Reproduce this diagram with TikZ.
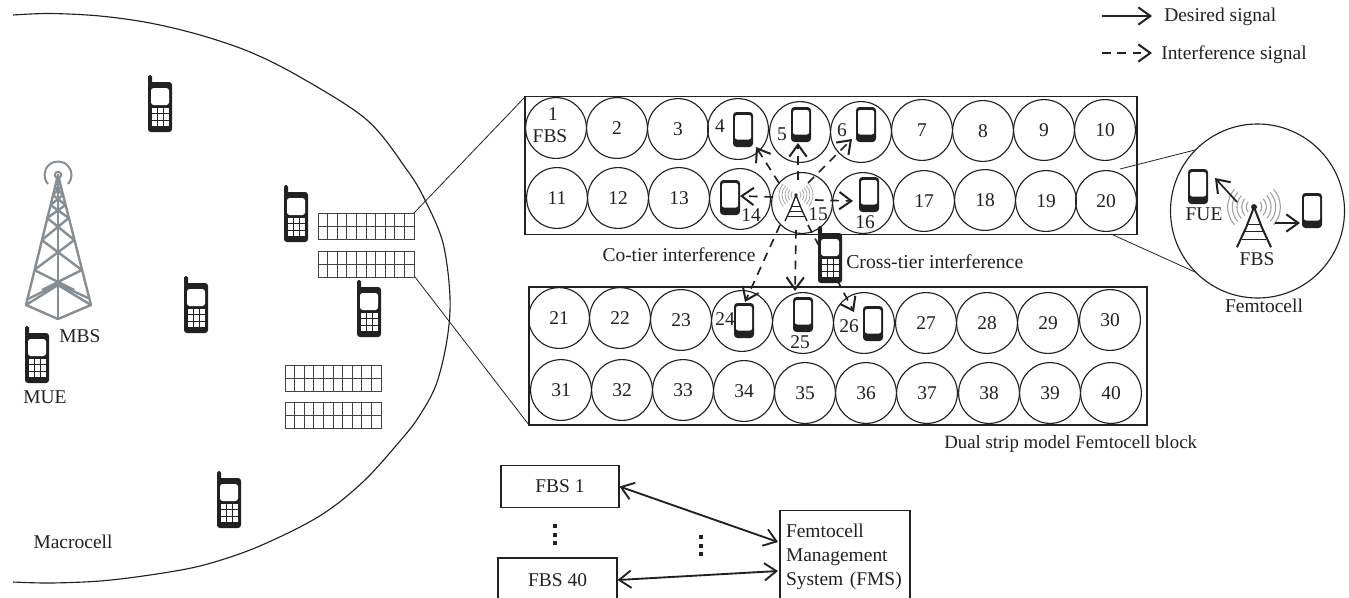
\documentclass[tikz,border=0pt]{standalone}
\usepackage{fontspec}
\setmainfont{Liberation Serif}
\usetikzlibrary{arrows.meta}
\definecolor{ink}{gray}{0.13}
\definecolor{towergray}{RGB}{134,142,148}
\newcommand{\wavew}{.55pt}
\newcommand{\legw}{1pt}
\tikzset{
  every node/.style={text=ink,font=\fontsize{14.6}{18}\selectfont},
  cell/.style={circle,draw=ink,line width=.85pt,minimum size=45.6pt,inner sep=0pt},
  plainbox/.style={rectangle,draw=ink,line width=.8pt,inner sep=0pt},
  thinline/.style={draw=ink,line width=.6pt},
  sig/.style={draw=ink,line width=1.25pt,-{Straight Barb[length=9pt,width=13pt,line width=1.5pt]}},
  sigd/.style={sig,dash pattern=on 6.5pt off 5pt},
  twoway/.style={draw=ink,line width=1.4pt,{Straight Barb[length=9pt,width=13pt,line width=1.4pt]}-{Straight Barb[length=9pt,width=13pt,line width=1.4pt]}},
  oldphone/.pic={
    \fill[ink,rounded corners=1.2pt] (0,0) rectangle (4,10);
    \fill[ink,rounded corners=2.2pt] (0,7) rectangle (24,57);
    \fill[white,rounded corners=2pt] (3,13) rectangle (21,30);
    \foreach \i in {0,1,2}{\foreach \j in {0,1,2}{
      \fill[white] ({4+\i*5.9},{32.5+\j*6.8}) rectangle ({8.7+\i*5.9},{37.7+\j*6.8});
    }}
  },
  smartphone/.pic={
    \fill[ink,rounded corners=2.6pt] (0,0) rectangle (20,35);
    \fill[white,rounded corners=1.6pt] (2,3) rectangle (18,27.5);
  },
  houseblock/.pic={
    \draw[draw=ink!85,line width=.65pt] (0,0) rectangle (96,26);
    \draw[draw=ink!85,line width=.55pt] (0,13) -- (96,13);
    \foreach \i in {1,...,9}{\draw[draw=ink!85,line width=.55pt] ({\i*9.6},0) -- ({\i*9.6},26);}
  },
  fbstower/.pic={
    \foreach \r in {5,8,11,14,17}{
      \draw[gray!75,line width=\wavew] (-42:\r) arc[start angle=-42,end angle=42,radius=\r];
      \draw[gray!75,line width=\wavew] (138:\r) arc[start angle=138,end angle=222,radius=\r];
    }
    \fill[ink] (0,0) circle (1.9);
    \draw[ink,line width=\legw] (0,0) -- (-5,13) -- (-11,26) (0,0) -- (5,13) -- (11,26);
    \draw[ink,line width=.6pt] (-4,11) -- (4,11) (-6,16) -- (6,16) (-8,21) -- (8,21);
  }
}
\begin{document}
\begin{tikzpicture}[x=.75pt,y=-.75pt]
\useasboundingbox (0,0) rectangle (1349,597);
\clip (0,0) rectangle (1349,597);

% macrocell boundary
\draw[draw=ink,line width=.85pt] plot[smooth,tension=.55] coordinates {
 (13,15) (50,13.5) (100,16) (150,23) (200,35) (250,52) (300,77) (367,120) (407,170) (425,200) (443,243) (450,297)
 (447,340) (436,385) (418,418) (400,441) (367,478) (333,507) (300,527) (250,550) (200,566) (150,575) (100,581) (50,583) (13,582)};

% MBS tower
\begin{scope}[draw=towergray,line width=1.8pt,line join=round]
 \draw (58,175) -- (26,305) -- (58,319) -- (91,305) -- cycle;
 \draw (58,175) -- (58,319);
 \draw (26,305) -- (58,285) -- (91,305);
 \draw (26,300) -- (58,284) -- (88,298);
 \draw (34.3,270) -- (74.3,290) (81.8,270) -- (42,290);
 \draw (34.3,270) -- (74.3,240) (81.8,270) -- (41.8,240);
 \draw (41.8,240) -- (68.8,218) (74.3,240) -- (47.2,218);
 \draw (47.2,218) -- (65.5,205) (68.8,218) -- (50.5,205);
 \draw (50.5,205) -- (63,195) (65.5,205) -- (53,195);
 \draw (53,195) -- (61,187) (63,195) -- (55,187);
 \draw[line width=1.5pt] (58,175) circle (3.2);
 \draw[line width=1.5pt] (48,184) arc[start angle=138,end angle=402,radius=13.5];
\end{scope}

% zoom lines
\coordinate (blockA) at (414,213);
\coordinate (blockB) at (415,277);
\coordinate (boxAcorner) at (525,97);
\coordinate (boxBcorner) at (529,425);
\coordinate (femA) at (1195,150);
\coordinate (femB) at (1195,272);
\coordinate (boxAa) at (1120,169);
\coordinate (boxAb) at (1111,234);
\draw[thinline] (blockA) -- (boxAcorner);
\draw[thinline] (blockB) -- (boxBcorner);
\draw[thinline] (boxAa) -- (femA);
\draw[thinline] (boxAb) -- (femB);

% housing blocks
\pic at (318,213) {houseblock};
\pic at (318,251) {houseblock};
\pic at (285,365) {houseblock};
\pic at (285,402) {houseblock};

% old phones
\pic at (148,75) {oldphone};
\pic at (284,185) {oldphone};
\pic at (184,276) {oldphone};
\pic at (357,280) {oldphone};
\pic at (25,326) {oldphone};
\pic at (217,471) {oldphone};

% strip frames
\node[plainbox,minimum width=459pt,minimum height=103pt] (stripA) at (831,165.5) {};
\node[plainbox,minimum width=463.5pt,minimum height=103.5pt] (stripB) at (838,356) {};

% cells
\foreach \n/\x/\y in {
 2/617/128,3/678/129,7/922/130,8/983/131,9/1044/130,10/1105/130,
 11/557/198,12/618/198,13/679/198,17/924/201,18/985/200,19/1046/201,20/1106/201,
 21/559/318,22/620/318,23/681/320,27/926/323,28/987/323,29/1048/323,30/1110/320,
 31/561/390,32/622/390,33/683/390,34/744/391,35/805/393,36/866/393,37/927/393,38/989/393,39/1050/393,40/1111/393}{
  \node[cell] (c\n) at (\x,\y) {\n};
}
\foreach \n/\x/\y in {1/556/128,4/738/129,5/800/132,6/861/132,14/740/199,15/802/203,16/863/203,24/742/321,25/803/323,26/864/323}{
  \node[cell] (c\n) at (\x,\y) {};
}
\foreach \n/\x/\y in {1/553/114,4/720/126,5/782/134,6/842/130,14/751/215,15/818/214,16/865/222,24/725/319,25/800/342,26/849/326}{
  \node[inner sep=0pt] (t\n) at (\x,\y) {\n};
}
\node[inner sep=0pt] (tfbs) at (550,136) {FBS};

% smart phones
\pic at (733,112) {smartphone};
\pic at (791,107) {smartphone};
\pic at (856,107) {smartphone};
\pic at (720,180) {smartphone};
\pic at (859,177) {smartphone};
\pic at (734,303) {smartphone};
\pic at (793,297) {smartphone};
\pic at (863,306) {smartphone};

% FBS in cell 15
\pic at (796,195) {fbstower};

% interference arrows
\coordinate (s4) at (779,183); \coordinate (e4) at (756,147);
\coordinate (s5) at (798,180); \coordinate (e5) at (798,143);
\coordinate (s6) at (808,183); \coordinate (e6) at (852,139);
\coordinate (s14) at (773,197); \coordinate (e14) at (740,196);
\coordinate (s16) at (815,200); \coordinate (e16) at (853,201);
\coordinate (s24) at (780,225); \coordinate (e24) at (745,302);
\coordinate (s25) at (796,230); \coordinate (e25) at (795,291);
\coordinate (s26) at (808,225); \coordinate (e26) at (854,312);
\foreach \k in {4,5,6,14,16,24,25,26}{\draw[sigd] (s\k) -- (e\k);}

% cross-tier phone over the arrows
\pic at (818,226) {oldphone};

% captions
\node[inner sep=0pt] (cotier) at (679,255) {Co-tier interference};
\node[inner sep=0pt,anchor=west,font=\fontsize{14.8}{18}\selectfont] (crosstier) at (846,262) {Cross-tier interference};
\node[inner sep=0pt,anchor=west,font=\fontsize{14.1}{18}\selectfont] (dualstrip) at (944,444) {Dual strip model Femtocell block};
\node[inner sep=0pt] (mbs) at (80,336) {MBS};
\node[inner sep=0pt] (mue) at (45,397) {MUE};
\node[inner sep=0pt] (macro) at (73,542) {Macrocell};

% femtocell
\node[circle,draw=ink,line width=.85pt,minimum size=130.5pt,inner sep=0pt] (femto) at (1257.5,211) {};
\begin{scope}
\renewcommand{\wavew}{.8pt}
\renewcommand{\legw}{1.5pt}
\pic[scale=1.55] at (1254,207) {fbstower};
\end{scope}
\pic at (1188,169) {smartphone};
\pic at (1302,193) {smartphone};
\coordinate (fa) at (1237,202); \coordinate (fb) at (1215,178);
\coordinate (fc) at (1275,223); \coordinate (fd) at (1300,223);
\draw[sig] (fa) -- (fb);
\draw[sig] (fc) -- (fd);
\node[inner sep=0pt] (fue) at (1204,214) {FUE};
\node[inner sep=0pt] (fbslabel) at (1257,259) {FBS};
\node[inner sep=0pt] (femtolabel) at (1264,306) {Femtocell};

% legend
\coordinate (la) at (1102,16); \coordinate (lb) at (1152,16);
\coordinate (lc) at (1102,53); \coordinate (ld) at (1152,53);
\draw[sig] (la) -- (lb);
\draw[sigd] (lc) -- (ld);
\node[inner sep=0pt,anchor=west] (desired) at (1164,17) {Desired signal};
\node[inner sep=0pt,anchor=west] (interf) at (1161,55) {Interference signal};

% management system
\node[plainbox,minimum width=88.5pt,minimum height=31pt] (fbs1) at (560,486.5) {FBS 1};
\node[plainbox,minimum width=89.25pt,minimum height=33pt] (fbs40) at (557.5,580) {FBS 40};
\node[plainbox,minimum width=97.5pt,minimum height=70pt,inner xsep=4.5pt,text width=88.5pt,align=left] (fms) at (845,557) {Femtocell\\Management\\System (FMS)};
\coordinate (fmsA) at (778,542);
\coordinate (fmsB) at (778,571);
\draw[twoway] (fbs1.east) -- (fmsA);
\draw[twoway] (fbs40.east) -- (fmsB);
\foreach \py in {526,534.5,543}{\fill[ink] (553,\py-2) rectangle (557,\py+2);}
\foreach \py in {537,545.5,554}{\fill[ink] (699,\py-2) rectangle (703,\py+2);}
\end{tikzpicture}
\end{document}
